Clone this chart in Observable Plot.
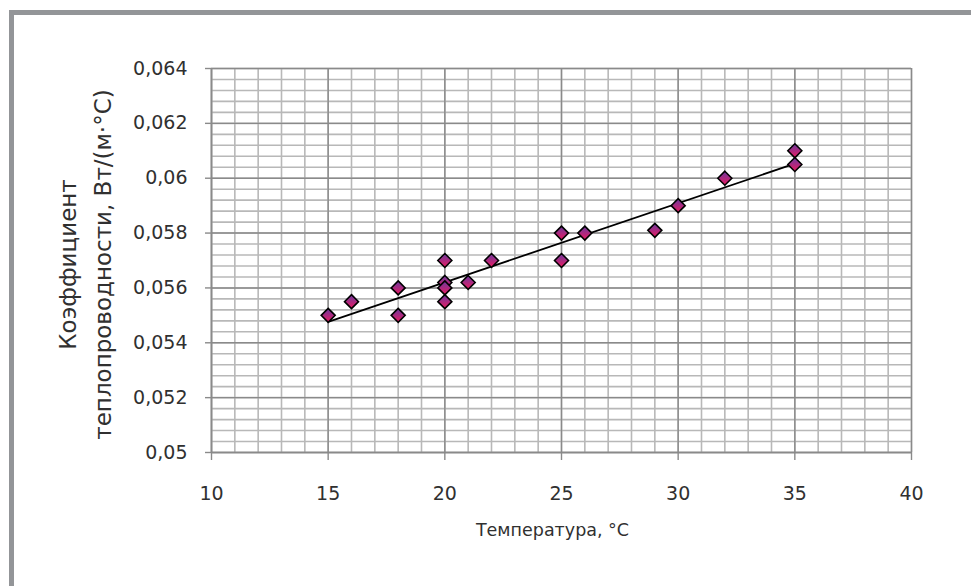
<!DOCTYPE html>
<html>
<head>
<meta charset="utf-8">
<script src="https://cdn.jsdelivr.net/npm/d3@7"></script>
<script src="https://cdn.jsdelivr.net/npm/@observablehq/plot@0.6"></script>
<style>
  html, body { margin: 0; padding: 0; background: #fff; }
  #wrap { position: relative; width: 971px; height: 586px; overflow: hidden; }
  #frame { position: absolute; left: 9px; top: 10px; width: 1000px; height: 600px;
           border-top: 5px solid #939598; border-left: 5px solid #939598; box-sizing: border-box; }
  #chart { position: absolute; left: 0; top: 0; }
</style>
</head>
<body>
<div id="wrap">
  <div id="chart"></div>
  <div id="frame"></div>
</div>
<script>
// Data
const temps   = [15, 16, 18, 18, 20, 20, 20, 20, 21, 22, 25, 25, 26, 29, 30, 32, 35, 35];
const kValues = [0.0550, 0.0555, 0.0560, 0.0550, 0.0570, 0.0562, 0.0560, 0.0555, 0.0562, 0.0570,
                 0.0580, 0.0570, 0.0580, 0.0581, 0.0590, 0.0600, 0.0610, 0.0605];

const xTicks = [10, 15, 20, 25, 30, 35, 40];
const yTicks = [0.05, 0.052, 0.054, 0.056, 0.058, 0.06, 0.062, 0.064];
const xMinorTicks = [10,11,12,13,14,15,16,17,18,19,20,21,22,23,24,25,26,27,28,29,30,31,32,33,34,35,36,37,38,39,40];
const yMinorTicks = [0.05,0.0504,0.0508,0.0512,0.0516,0.052,0.0524,0.0528,0.0532,0.0536,0.054,0.0544,0.0548,0.0552,0.0556,
                     0.056,0.0564,0.0568,0.0572,0.0576,0.058,0.0584,0.0588,0.0592,0.0596,0.06,0.0604,0.0608,0.0612,0.0616,
                     0.062,0.0624,0.0628,0.0632,0.0636,0.064];

const xTitle = "Температура, °C";
const yTitle = "Коэффициент\nтеплопроводности, Вт/(м·°С)";

const data = temps.map((t, i) => ({t, k: kValues[i]}));

const minorColor = "#b8b8b8";
const majorColor = "#8a8a8a";
const textColor = "#303030";

const plot = Plot.plot({
  width: 971,
  height: 586,
  marginLeft: 211,
  marginRight: 60,
  marginTop: 68,
  marginBottom: 134,
  style: { fontFamily: "'DejaVu Sans', sans-serif", fontSize: "19px", color: textColor, background: "transparent" },
  x: { domain: [10, 40] },
  y: { domain: [0.05, 0.064] },
  marks: [
    Plot.gridX(xMinorTicks, { stroke: minorColor, strokeOpacity: 1, strokeWidth: 1.6 }),
    Plot.gridY(yMinorTicks, { stroke: minorColor, strokeOpacity: 1, strokeWidth: 1.6 }),
    Plot.gridX(xTicks, { stroke: majorColor, strokeOpacity: 1, strokeWidth: 1.4 }),
    Plot.gridY(yTicks, { stroke: majorColor, strokeOpacity: 1, strokeWidth: 1.4 }),
    Plot.ruleX([10], { stroke: majorColor, strokeWidth: 1.6 }),
    Plot.ruleY([0.05], { stroke: majorColor, strokeWidth: 1.6 }),
    Plot.axisX(xTicks, { tickSize: 8, tickPadding: 26, stroke: majorColor, strokeWidth: 1.4, fill: textColor, fontSize: 19,
                         tickFormat: d => String(d), label: null }),
    Plot.axisY(yTicks, { tickSize: 6, tickPadding: 18, stroke: majorColor, strokeWidth: 1.4, fill: textColor, fontSize: 19,
                         tickFormat: d => String(d).replace(".", ","), label: null }),
    Plot.linearRegressionY(data, { x: "t", y: "k", ci: 0, stroke: "#000", strokeWidth: 1.8 }),
    Plot.dot(data, { x: "t", y: "k", symbol: "diamond2", r: 6.3, fill: "url(#diamondGrad)", stroke: "#000", strokeWidth: 1.6 }),
    Plot.text([xTitle], { frameAnchor: "bottom", text: d => d, dy: 83, dx: -9, fontSize: 17.5, fill: textColor }),
    Plot.text([yTitle], { frameAnchor: "left", text: d => d, rotate: -90, dx: -129, dy: 4, textAnchor: "middle",
                          fontSize: 23, lineHeight: 1.52, fill: textColor })
  ]
});

const svg = d3.select(plot);
const defs = svg.insert("defs", ":first-child");
const grad = defs.append("linearGradient").attr("id", "diamondGrad")
  .attr("x1", 0).attr("y1", 0).attr("x2", 0).attr("y2", 1);
grad.append("stop").attr("offset", "0%").attr("stop-color", "#6a3aa0");
grad.append("stop").attr("offset", "100%").attr("stop-color", "#ec1a60");

document.getElementById("chart").appendChild(plot);
</script>
</body>
</html>
